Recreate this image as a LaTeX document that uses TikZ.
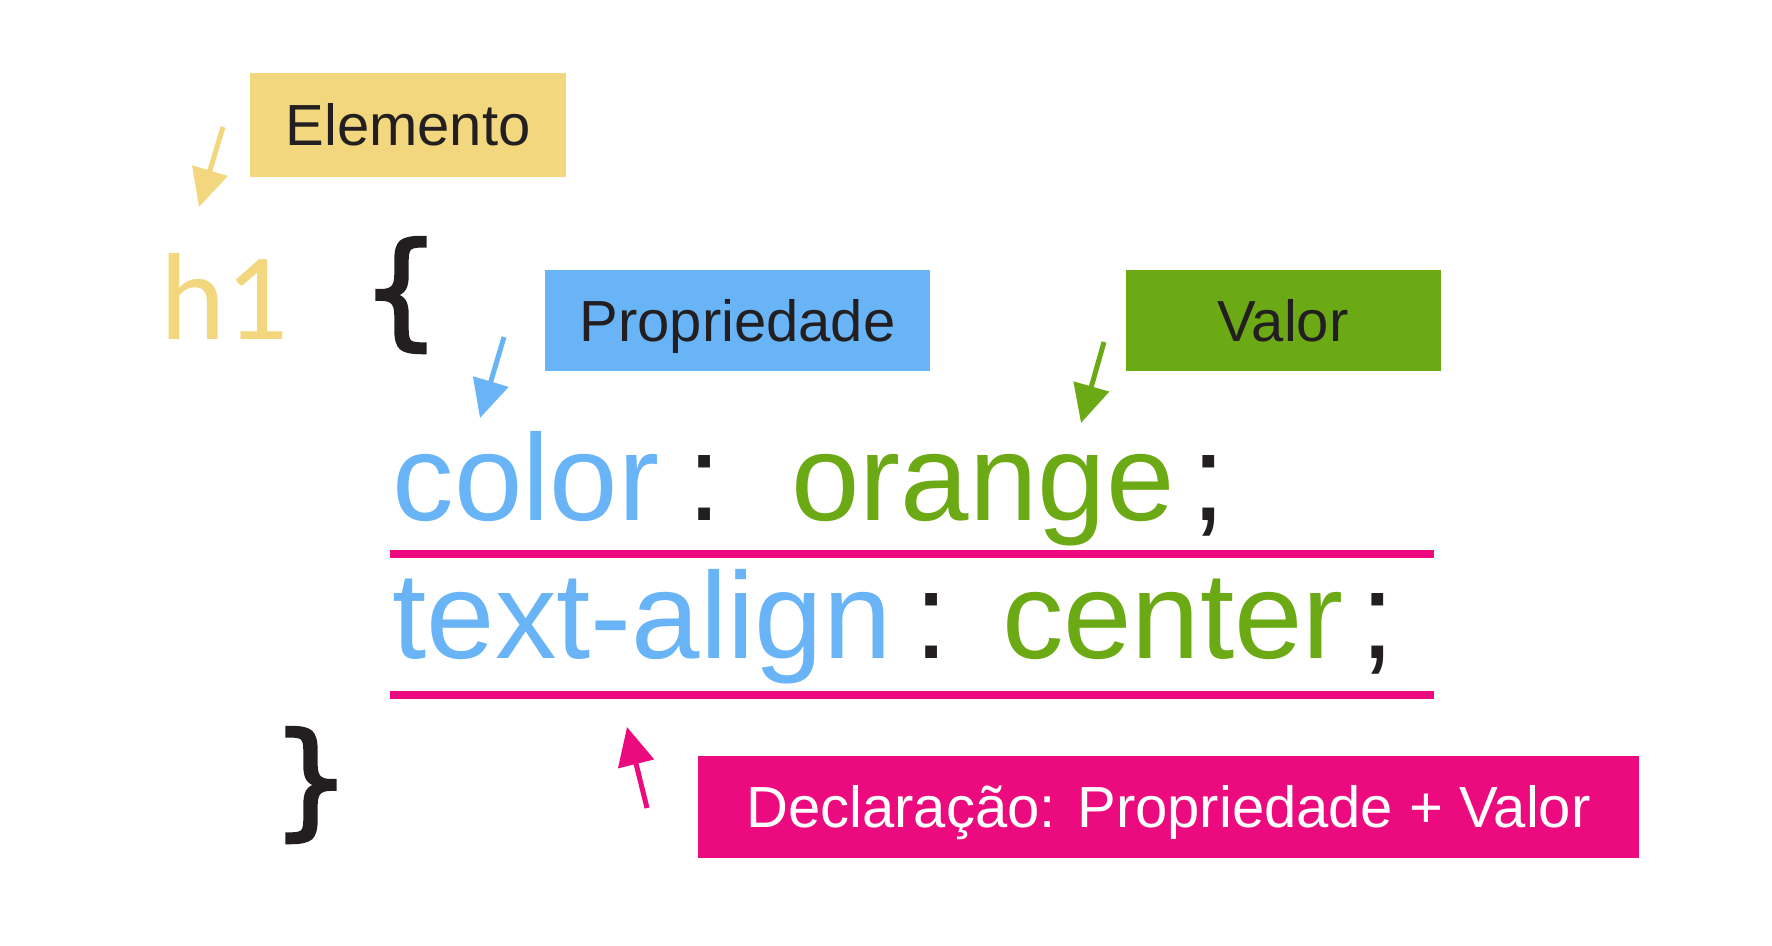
\documentclass[tikz,border=0pt]{standalone}
\usepackage{fontspec}
\setmainfont{Liberation Sans}
\newfontfamily\hfont{Carlito}
\newfontfamily\bracefont[FakeBold=2.5]{DejaVu Sans}
\usetikzlibrary{arrows.meta}
\definecolor{ylw}{HTML}{F2D77E}
\definecolor{blu}{HTML}{68B4F7}
\definecolor{grn}{HTML}{6BA915}
\definecolor{pnk}{HTML}{EC0B7F}
\definecolor{ink}{HTML}{231F20}
\tikzset{
  lbl/.style={inner sep=0pt, text height=41pt, text depth=0pt, text=ink, font=\fontsize{58}{60}\selectfont},
  code/.style={inner sep=0pt, anchor=base, font=\fontsize{123}{130}\selectfont},
  arr/.style={line width=5pt, -{Triangle[width=36pt,length=38pt]}},
  rule/.style={pnk, line width=8pt},
  brace/.style={inner sep=0pt, text=ink, font=\bracefont\fontsize{125}{125}\selectfont}
}
\begin{document}
\begin{tikzpicture}[x=1pt,y=-1pt]
\useasboundingbox[fill=white] (0,0) rectangle (1772,945);
% label boxes
\node[lbl, fill=ylw, minimum width=316pt, minimum height=104pt] (elem) at (408,125) {Elemento};
\node[lbl, fill=blu, minimum width=385pt, minimum height=101pt] (prop) at (737.5,320.5) {Propriedade};
\node[lbl, fill=grn, minimum width=315pt, minimum height=101pt] (val) at (1283,320.5) {Valor};
\node[lbl, fill=pnk, text=white, minimum width=941pt, minimum height=102pt] (decl) at (1168.5,807) {Declaração: Propriedade + Valor};
% selector and braces
\node[inner sep=0pt, anchor=base, text=ylw, font=\hfont\fontsize{124}{130}\selectfont] (h1) at (224,339) {h1};
\node[brace] (open) at (401,295) {\{};
\node[brace] (close) at (311,785) {\}};
% code line 1
\node[code, text=blu] (c1p) at (526,520) {color};
\node[code, text=ink] (c1c) at (705,520) {:};
\node[code, text=grn] (c1v) at (983,520) {orange};
\node[code, text=ink] (c1s) at (1209,520) {;};
% code line 2
\node[code, text=blu] (c2p) at (642,658) {text-align};
\node[code, text=ink] (c2c) at (932,658) {:};
\node[code, text=grn] (c2v) at (1173,658) {center};
\node[code, text=ink] (c2s) at (1378,658) {;};
% underline rules
\coordinate (r1a) at (390,554); \coordinate (r1b) at (1434,554);
\coordinate (r2a) at (390,695); \coordinate (r2b) at (1434,695);
\draw[rule] (r1a) -- (r1b);
\draw[rule] (r2a) -- (r2b);
% arrows
\coordinate (eT) at (223,127); \coordinate (eH) at (199,207);
\coordinate (pT) at (504,337); \coordinate (pH) at (480,418);
\coordinate (vT) at (1104,342); \coordinate (vH) at (1081,423);
\coordinate (dT) at (647,808); \coordinate (dH) at (627,727);
\draw[arr, ylw] (eT) -- (eH);
\draw[arr, blu] (pT) -- (pH);
\draw[arr, grn] (vT) -- (vH);
\draw[arr, pnk] (dT) -- (dH);
\end{tikzpicture}
\end{document}
